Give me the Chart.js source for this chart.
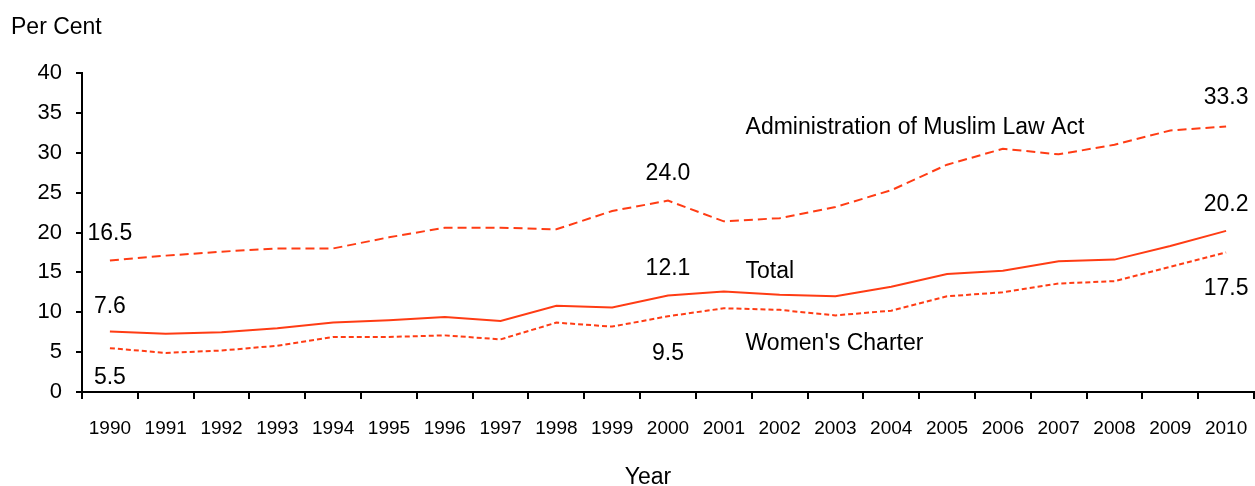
<!DOCTYPE html>
<html><head><meta charset="utf-8">
<script src="https://cdn.jsdelivr.net/npm/chart.js@4"></script>
<style>html,body{margin:0;padding:0;background:#fff}#wrap{width:1255px;height:486px;position:relative}</style>
</head><body><div id="wrap"><canvas id="c"></canvas></div>
<script>
const years = ['1990','1991','1992','1993','1994','1995','1996','1997','1998','1999','2000','2001','2002','2003','2004','2005','2006','2007','2008','2009','2010'];
const muslimLaw = [16.5,17.1,17.6,18.0,18.0,19.4,20.6,20.6,20.4,22.7,24.0,21.4,21.8,23.2,25.3,28.5,30.5,29.8,31.0,32.8,33.3];
const total = [7.6,7.3,7.5,8.0,8.7,9.0,9.4,8.9,10.8,10.6,12.1,12.6,12.2,12.0,13.2,14.8,15.2,16.4,16.6,18.3,20.2];
const womensCharter = [5.5,4.9,5.2,5.8,6.9,6.9,7.1,6.6,8.7,8.2,9.5,10.5,10.3,9.6,10.2,12.0,12.5,13.6,13.9,15.7,17.5];
const yTicks = [0,5,10,15,20,25,30,35,40];
const seriesNames = ['Administration of Muslim Law Act','Total',"Women's Charter"];
// value labels: [categoryIndex, value text, label y (data units)]
const valueLabels = [
  [0,'16.5',20.1],[0,'7.6',11.0],[0,'5.5',2.1],
  [10,'24.0',27.6],[10,'12.1',15.7],[10,'9.5',5.0],
  [20,'33.3',37.1],[20,'20.2',23.7],[20,'17.5',13.2]
];
// series name labels: [x in category units (left edge), y data units]
const nameLabels = [[11.39,33.4],[11.39,15.4],[11.39,6.3]];

const RED = '#ff3c14';
const FONT = '"Liberation Sans", Arial, sans-serif';

const textPlugin = {
  id:'texts',
  afterDraw(chart){
    const ctx = chart.ctx, xs = chart.scales.x, ys = chart.scales.y;
    ctx.save();
    ctx.fillStyle = '#000';
    ctx.textBaseline = 'middle';
    ctx.font = '23px ' + FONT;
    ctx.textAlign = 'left';
    ctx.fillText('Per Cent', 11, 28);
    ctx.textAlign = 'center';
    ctx.fillText('Year', 648, 478);
    valueLabels.forEach(([i,t,v])=>{
      ctx.textAlign = 'center';
      ctx.fillText(t, xs.getPixelForValue(i), ys.getPixelForValue(v) + 2);
    });
    ctx.textAlign = 'left';
    nameLabels.forEach(([xv,yv],k)=>{
      ctx.fillText(seriesNames[k], xs.getPixelForValue(xv), ys.getPixelForValue(yv) + 2);
    });
    ctx.restore();
  }
};

new Chart(document.getElementById('c'), {
  type:'line',
  data:{
    labels: years,
    datasets:[
      {label:seriesNames[0], data:muslimLaw, borderColor:RED, borderWidth:2, borderDash:[9,5], pointRadius:0, tension:0, fill:false},
      {label:seriesNames[1], data:total, borderColor:RED, borderWidth:2, pointRadius:0, tension:0, fill:false},
      {label:seriesNames[2], data:womensCharter, borderColor:RED, borderWidth:2, borderDash:[5,3], pointRadius:0, tension:0, fill:false}
    ]
  },
  options:{
    responsive:true, maintainAspectRatio:false, animation:false,
    layout:{padding:{top:73,right:1,left:0,bottom:0}},
    plugins:{legend:{display:false}, tooltip:{enabled:false}},
    scales:{
      x:{
        offset:true,
        grid:{display:true, drawOnChartArea:false, offset:true, color:'#000', lineWidth:2, tickLength:7},
        border:{display:true, color:'#000', width:2},
        ticks:{color:'#000', font:{family:FONT, size:19}, padding:18, maxRotation:0, autoSkip:false},
        afterFit(s){ s.height = 94; s.paddingLeft = 0; s.paddingRight = 0; }
      },
      y:{
        min:0, max:40,
        afterBuildTicks(s){ s.ticks = yTicks.map(v=>({value:v})); },
        grid:{display:true, drawOnChartArea:false, color:'#000', lineWidth:2, tickLength:6},
        border:{display:true, color:'#000', width:2},
        ticks:{color:'#000', font:{family:FONT, size:22}, padding:14},
        afterFit(s){ s.width = 82; s.paddingTop = 0; s.paddingBottom = 0; }
      }
    }
  },
  plugins:[textPlugin]
});
</script></body></html>
